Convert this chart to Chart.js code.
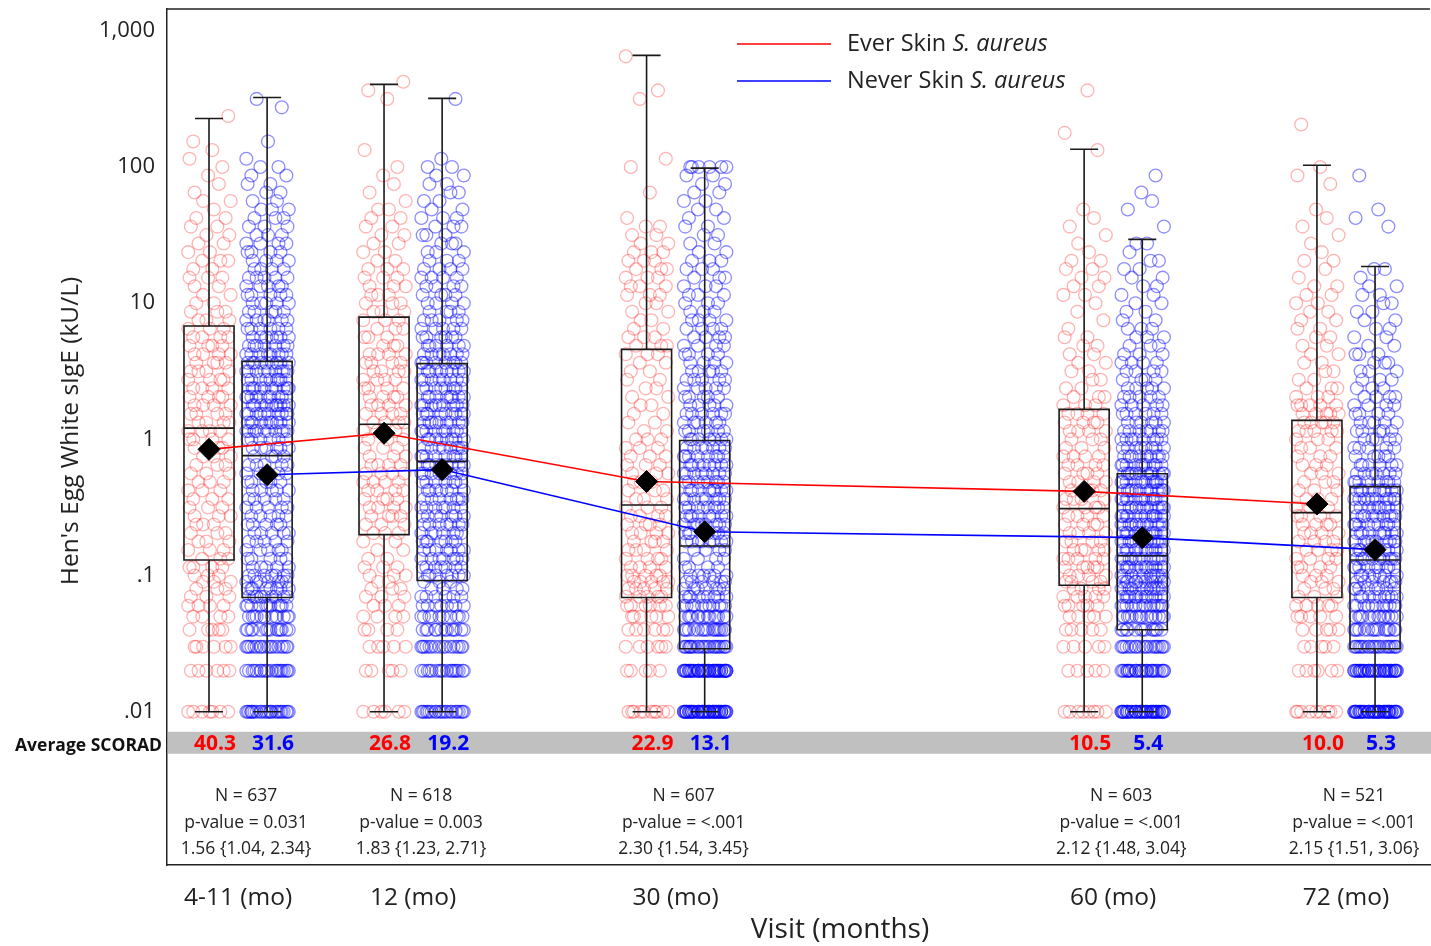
<!DOCTYPE html>
<html><head><meta charset="utf-8">
<script src="https://cdn.jsdelivr.net/npm/chart.js@4.4.1/dist/chart.umd.min.js"></script>
<style>html,body{margin:0;padding:0;background:#fff;}canvas{display:block;}</style>
</head><body>
<canvas id="c" width="1431" height="946"></canvas>
<script>
// ---------- DATA ----------
const visitLabels = ['4-11 (mo)', '12 (mo)', '30 (mo)', '60 (mo)', '72 (mo)'];
const visitPos = [0, 1, 2.5, 5, 6.33];
const yTickValues = [0.01, 0.1, 1, 10, 100, 1000];
const yTickLabels = ['.01', '.1', '1', '10', '100', '1,000'];
const xTitle = 'Visit (months)';
const yTitle = "Hen's Egg White sIgE (kU/L)";
const seriesNames = ['Ever Skin ', 'Never Skin '];
const seriesItalic = 'S. aureus';
const scoradEver = ['40.3', '26.8', '22.9', '10.5', '10.0'];
const scoradNever = ['31.6', '19.2', '13.1', '5.4', '5.3'];
const nLabels = ['N = 637', 'N = 618', 'N = 607', 'N = 603', 'N = 521'];
const pLabels = ['p-value = 0.031', 'p-value = 0.003', 'p-value = <.001', 'p-value = <.001', 'p-value = <.001'];
const orLabels = ['1.56 {1.04, 2.34}', '1.83 {1.23, 2.71}', '2.30 {1.54, 3.45}', '2.12 {1.48, 3.04}', '2.15 {1.51, 3.06}'];

// box stats: [whisker low, Q1, median, Q3, whisker high]
const everBox = [[0.01,0.13,1.21,6.8,227],[0.01,0.2,1.29,7.9,404],[0.01,0.069,0.33,4.58,660],[0.01,0.085,0.31,1.66,135],[0.01,0.069,0.29,1.38,103]];
const neverBox = [[0.01,0.069,0.76,3.74,324],[0.01,0.092,0.69,3.6,319],[0.01,0.029,0.165,0.98,98],[0.01,0.04,0.14,0.56,29.4],[0.01,0.029,0.13,0.45,18.6]];
const everMean = [0.845, 1.11, 0.49, 0.415, 0.335];
const neverMean = [0.55, 0.60, 0.21, 0.19, 0.155];

// sIgE value levels (kU/L) at which individual results are counted
const levels = [0.01,0.02,0.03,0.04,0.05,0.06,0.07,0.08,0.09,0.1,
0.115,0.133,0.154,0.178,0.205,0.237,0.274,0.316,0.365,0.422,0.487,0.562,0.649,0.75,0.866,1,
1.15,1.33,1.54,1.78,2.05,2.37,2.74,3.16,3.65,4.22,4.87,5.62,6.49,7.5,8.66,10,
11.5,13.3,15.4,17.8,20.5,23.7,27.4,31.6,36.5,42.2,48.7,56.2,64.9,75,86.6,100,
115,133,154,178,205,237,274,316,365,422,487,562,649,750,866,1000];

// number of children at each level, per visit
const ever411 = [7,6,6,5,4,4,3,3,3,3, 4,3,3,3,3,3,3,3,3,3,3,3,3,3,4,4, 4,4,4,4,4,4,4,4,4,4,4,4,3,3,3,2, 2,2,3,2,3,2,2,2,2,2,1,2,1,1,1,1, 1,1,1,0,0,1,0,0,0,0,0,0,0,0,0,0];
const never411 = [25,20,18,14,12,11,9,8,7,7, 5,5,5,5,5,5,5,5,5,5,5,5,5,4,6,6, 10,10,10,10,10,10,9,9,9,8,7,7,6,6,5,5, 5,5,5,4,4,4,4,3,3,3,3,2,2,2,2,2, 1,0,1,0,0,0,1,1,0,0,0,0,0,0,0,0];
const ever12 = [6,5,5,4,4,3,3,3,2,3, 3,2,2,2,3,3,4,4,4,4,4,4,4,3,3,3, 3,4,4,4,4,4,4,4,4,4,3,3,3,3,3,3, 3,3,3,3,2,2,2,2,2,2,2,1,1,1,1,1, 0,1,0,0,0,0,0,1,1,1,0,0,0,0,0,0];
const never12 = [22,18,16,13,10,8,6,4,3,7, 7,7,7,7,7,7,7,7,7,7,7,8,8,8,8,8, 9,9,9,9,8,8,8,8,8,7,6,6,5,5,4,4, 4,4,4,4,3,3,3,3,3,3,2,2,2,2,2,2, 1,0,0,0,0,0,0,1,0,0,0,0,0,0,0,0];
const ever30 = [10,5,6,6,6,6,5,5,5,5, 4,4,4,4,4,4,4,3,3,3,3,3,3,3,3,3, 2,2,2,2,2,2,2,2,2,3,3,3,2,2,2,2, 3,3,3,3,3,3,2,2,2,1,0,0,1,0,0,1, 1,0,0,0,0,0,0,1,1,0,0,0,1,0,0,0];
const never30 = [52,48,24,18,14,11,9,7,6,6, 4,4,4,8,8,8,8,8,8,8,8,8,8,8,7,7, 6,6,6,5,5,5,5,5,4,4,4,4,4,4,3,3, 3,3,3,3,3,2,2,2,2,2,2,2,2,2,2,6, 0,0,0,0,0,0,0,0,0,0,0,0,0,0,0,0];
const ever60 = [8,5,5,5,5,5,5,4,4,4, 5,5,5,4,4,4,4,4,4,4,4,4,4,4,3,3, 4,4,4,3,3,2,2,2,2,2,2,2,1,1,1,1, 2,2,2,2,2,1,1,1,1,1,1,0,0,0,0,0, 0,1,0,1,0,0,0,0,1,0,0,0,0,0,0,0];
const never60 = [45,30,20,13,15,14,13,12,11,10, 12,12,12,12,12,12,12,12,12,12,12,12,10,9,8,8, 7,6,6,5,5,5,4,4,4,3,3,3,3,2,2,2, 2,2,2,2,2,1,2,0,1,0,1,1,1,0,1,0, 0,0,0,0,0,0,0,0,0,0,0,0,0,0,0,0];
const ever72 = [9,6,5,5,5,5,3,3,3,3, 4,4,4,4,4,4,4,3,3,3,3,3,3,3,3,3, 5,5,5,5,3,3,2,2,2,2,2,2,2,2,2,2, 2,2,1,1,2,1,1,1,1,1,1,0,0,1,1,1, 0,0,0,0,1,0,0,0,0,0,0,0,0,0,0,0];
const never72 = [50,42,22,16,13,11,9,8,7,7, 9,9,9,9,9,9,9,9,10,10,8,7,6,5,5,5, 5,5,4,4,4,3,3,3,3,3,2,2,2,2,2,2, 2,2,1,2,0,0,0,0,1,1,1,0,0,0,1,0, 0,0,0,0,0,0,0,0,0,0,0,0,0,0,0,0];

const everCounts = [ever411, ever12, ever30, ever60, ever72];
const neverCounts = [never411, never12, never30, never60, never72];

// ---------- LAYOUT / STYLE ----------
const OFF = 0.166;     // half distance between paired boxes (x units)
const BOX_HW = 0.143;  // box half width
const CAP_HW = 0.08;   // whisker cap half width
const JIT = 0.125;     // horizontal jitter spread
// fixed, irregular spread pattern for overlapping markers (layout only)
const SPREAD = [0.15,-0.72,0.88,-0.31,0.52,-0.95,0.04,0.67,-0.48,0.93,-0.12,-0.83,0.38,0.76,-0.58,0.22,-0.27,0.99,-0.66,0.45,-0.04,0.61,-0.89];
const FONT = "'Open Sans', 'DejaVu Sans', sans-serif";
const RED = '#ff0000', BLUE = '#0000ff', INK = '#222222';

function jitter(k) { return SPREAD[k % SPREAD.length] * JIT; }
function toPoints(countsList, off) {
  const out = [];
  countsList.forEach((counts, g) => {
    let k = g * 5;
    counts.forEach((c, li) => {
      for (let j = 0; j < c; j++, k++) out.push({ x: visitPos[g] + off + jitter(k), y: levels[li] });
    });
  });
  return out;
}

function drawBoxes(chart) {
  const ctx = chart.ctx, xs = chart.scales.x, ys = chart.scales.y;
  ctx.save();
  ctx.strokeStyle = '#1a1a1a';
  ctx.lineWidth = 1.6;
  [[everBox, -OFF], [neverBox, OFF]].forEach(([boxes, off]) => {
    boxes.forEach((b, i) => {
      const c = visitPos[i] + off;
      const cx = xs.getPixelForValue(c);
      const l = xs.getPixelForValue(c - BOX_HW), r = xs.getPixelForValue(c + BOX_HW);
      const cl = xs.getPixelForValue(c - CAP_HW), cr = xs.getPixelForValue(c + CAP_HW);
      const [lo, q1, md, q3, hi] = b.map(v => ys.getPixelForValue(v));
      ctx.beginPath();
      ctx.rect(l, q3, r - l, q1 - q3);
      ctx.moveTo(l, md); ctx.lineTo(r, md);
      ctx.moveTo(cx, q3); ctx.lineTo(cx, hi);
      ctx.moveTo(cx, q1); ctx.lineTo(cx, lo);
      ctx.moveTo(cl, hi); ctx.lineTo(cr, hi);
      ctx.moveTo(cl, lo); ctx.lineTo(cr, lo);
      ctx.stroke();
    });
  });
  ctx.restore();
}

const overlay = {
  id: 'overlay',
  afterDatasetDraw(chart, args) { if (args.index === 1) drawBoxes(chart); },
  afterDraw(chart) {
    const ctx = chart.ctx, xs = chart.scales.x, ys = chart.scales.y, a = chart.chartArea;
    ctx.save();
    // top frame line
    ctx.strokeStyle = INK; ctx.lineWidth = 1.5;
    ctx.beginPath(); ctx.moveTo(a.left, a.top); ctx.lineTo(a.right, a.top); ctx.stroke();
    // SCORAD band
    const bandTop = ys.getPixelForValue(0.01) + 20;
    ctx.fillStyle = '#c0c0c0';
    ctx.fillRect(a.left + 1, bandTop, a.right - a.left, 22);
    ctx.textBaseline = 'middle';
    ctx.textAlign = 'right';
    ctx.fillStyle = '#111';
    ctx.font = `bold 17.5px ${FONT}`;
    ctx.fillText('Average SCORAD', a.left - 5, bandTop + 14);
    ctx.textAlign = 'center';
    ctx.font = `bold 21px ${FONT}`;
    visitPos.forEach((p, i) => {
      ctx.fillStyle = RED;
      ctx.fillText(scoradEver[i], xs.getPixelForValue(p - OFF) + 6, bandTop + 12);
      ctx.fillStyle = BLUE;
      ctx.fillText(scoradNever[i], xs.getPixelForValue(p + OFF) + 6, bandTop + 12);
    });
    // N / p-value / OR text
    ctx.fillStyle = INK;
    ctx.font = `17.5px ${FONT}`;
    visitPos.forEach((p, i) => {
      const cx = xs.getPixelForValue(p) + 8;
      ctx.fillText(nLabels[i], cx, a.bottom - 69);
      ctx.fillText(pLabels[i], cx, a.bottom - 42);
      ctx.fillText(orLabels[i], cx, a.bottom - 16);
    });
    // axis titles
    ctx.font = `28px ${FONT}`;
    ctx.fillText(xTitle, 840, 930);
    ctx.save();
    ctx.translate(71, 431);
    ctx.rotate(-Math.PI / 2);
    ctx.font = `24.5px ${FONT}`;
    ctx.fillText(yTitle, 0, 0);
    ctx.restore();
    // legend
    ctx.textAlign = 'left';
    [[RED, 44], [BLUE, 81]].forEach(([col, y], k) => {
      ctx.strokeStyle = col; ctx.lineWidth = 1.6;
      ctx.beginPath(); ctx.moveTo(737, y); ctx.lineTo(831, y); ctx.stroke();
      ctx.fillStyle = INK;
      ctx.font = `23.5px ${FONT}`;
      ctx.fillText(seriesNames[k], 847, y);
      const w = ctx.measureText(seriesNames[k]).width;
      ctx.font = `italic 23.5px ${FONT}`;
      ctx.fillText(seriesItalic, 847 + w, y);
    });
    ctx.restore();
  }
};

function zeroPad(s) { s.paddingTop = 0; s.paddingBottom = 0; s.paddingLeft = 0; s.paddingRight = 0; }

new Chart(document.getElementById('c'), {
  type: 'scatter',
  data: {
    datasets: [
      { label: 'ever pts', data: toPoints(everCounts, -OFF), pointRadius: 6.4, pointBorderWidth: 1.3,
        pointBorderColor: 'rgba(255,0,0,0.3)', pointBackgroundColor: 'rgba(0,0,0,0)', order: 5 },
      { label: 'never pts', data: toPoints(neverCounts, OFF), pointRadius: 6.4, pointBorderWidth: 1.3,
        pointBorderColor: 'rgba(0,0,255,0.45)', pointBackgroundColor: 'rgba(0,0,0,0)', order: 4 },
      { label: 'Ever mean', data: visitPos.map((p, i) => ({ x: p - OFF, y: everMean[i] })), showLine: true,
        borderColor: RED, borderWidth: 1.6, pointStyle: 'rectRot', pointRadius: 11,
        pointBackgroundColor: '#000', pointBorderColor: '#000', pointBorderWidth: 1, order: 2 },
      { label: 'Never mean', data: visitPos.map((p, i) => ({ x: p + OFF, y: neverMean[i] })), showLine: true,
        borderColor: BLUE, borderWidth: 1.6, pointStyle: 'rectRot', pointRadius: 11,
        pointBackgroundColor: '#000', pointBorderColor: '#000', pointBorderWidth: 1, order: 1 }
    ]
  },
  options: {
    responsive: false, animation: false, events: [],
    layout: { autoPadding: false, padding: { top: 9, right: 1, left: 0, bottom: 0 } },
    plugins: { legend: { display: false }, tooltip: { enabled: false } },
    scales: {
      x: {
        type: 'linear', min: -0.406, max: 6.81,
        grid: { display: false, drawTicks: false },
        border: { display: true, color: INK, width: 1.5 },
        afterBuildTicks: s => { s.ticks = visitPos.map(v => ({ value: v })); },
        afterFit: s => { s.height = 81; zeroPad(s); },
        ticks: { autoSkip: false, maxRotation: 0, padding: 18, color: INK, font: { family: FONT, size: 24.5 },
          callback: (v, i) => visitLabels[i] }
      },
      y: {
        type: 'logarithmic', min: 0.00075, max: 1445,
        grid: { display: false, drawTicks: false },
        border: { display: true, color: INK, width: 1.5 },
        afterBuildTicks: s => { s.ticks = yTickValues.map(v => ({ value: v })); },
        afterFit: s => { s.width = 167; zeroPad(s); },
        ticks: { padding: 12, color: INK, font: { family: FONT, size: 22 }, callback: (v, i) => yTickLabels[i] }
      }
    }
  },
  plugins: [overlay]
});
</script>
</body></html>
